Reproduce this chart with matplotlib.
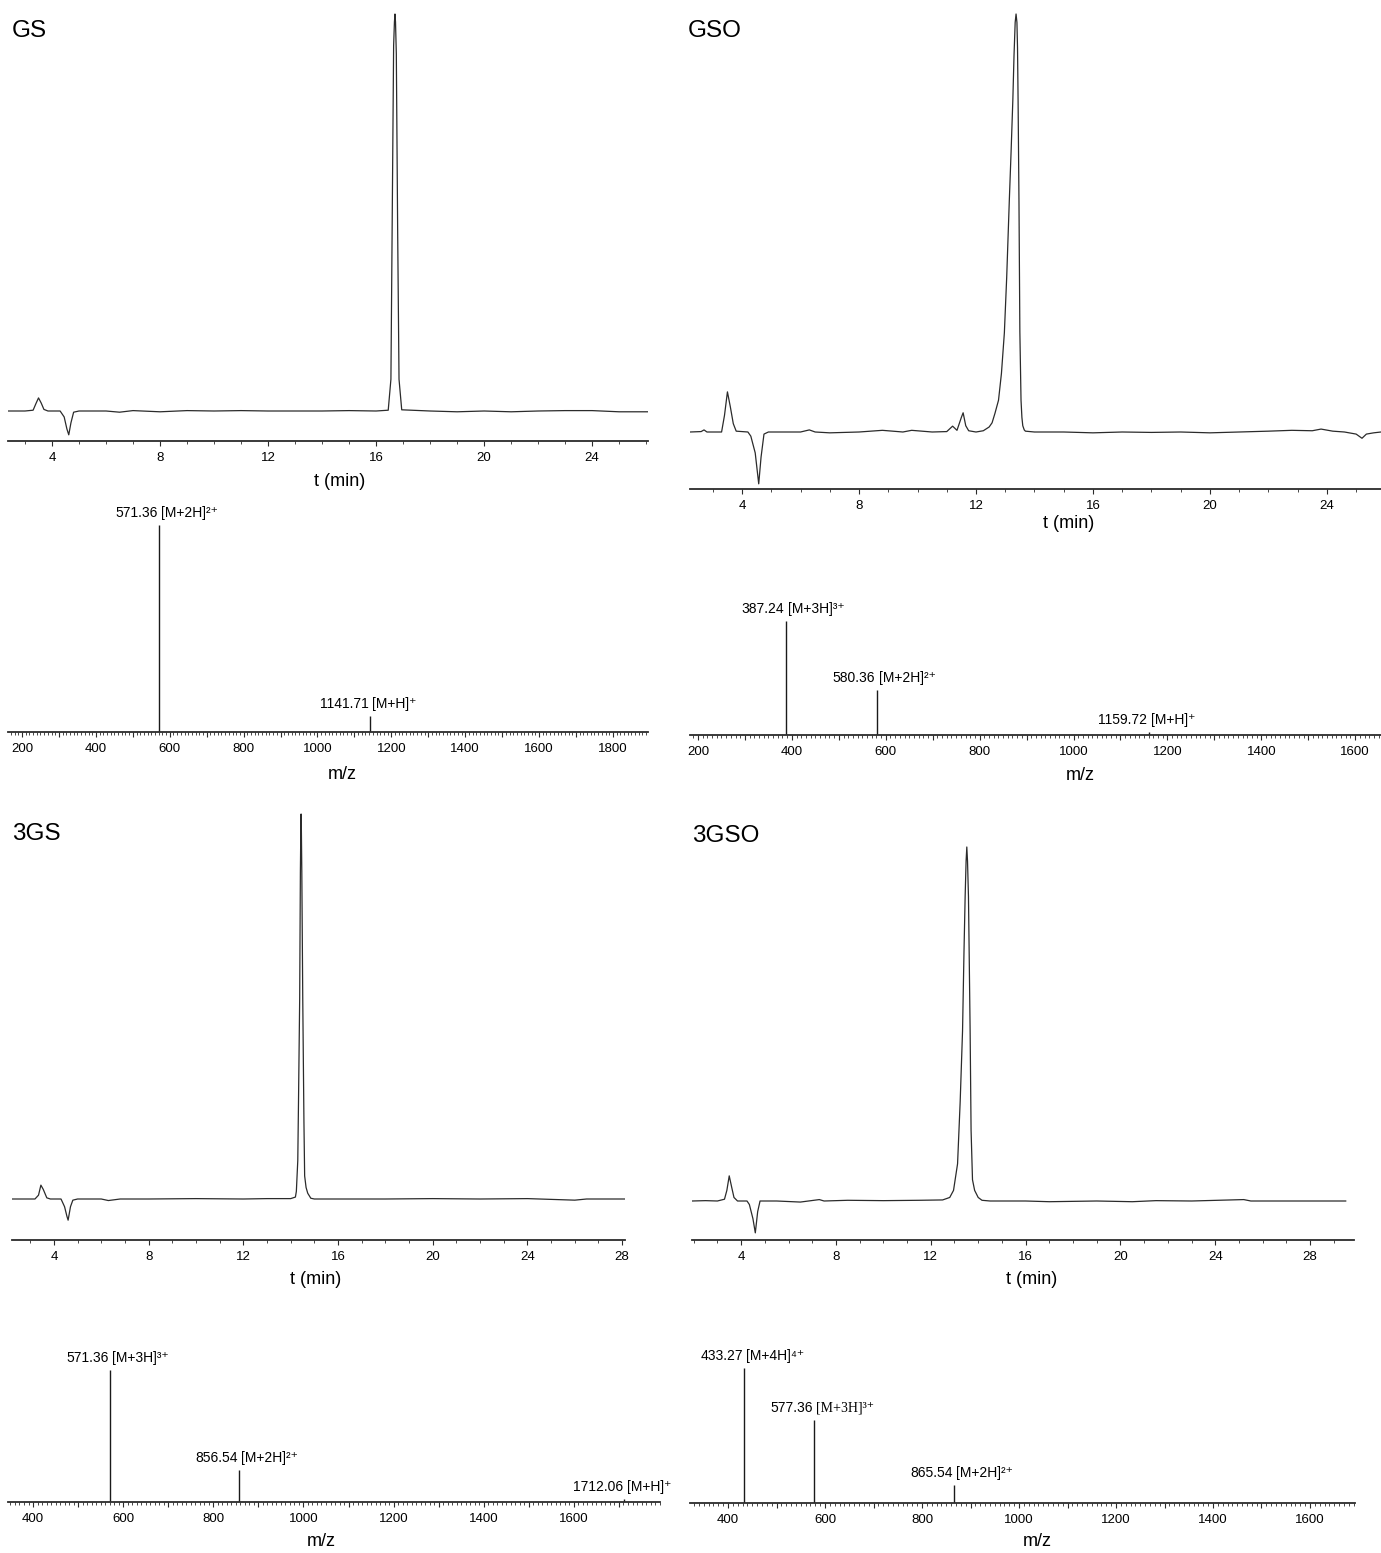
import matplotlib
matplotlib.use('Agg')
import matplotlib.pyplot as plt
from matplotlib.ticker import MultipleLocator, FuncFormatter

FIG_W, FIG_H = 1381, 1553
LINE_COLOR = '#2b2b2b'

plt.rcParams['font.family'] = ['Liberation Sans', 'DejaVu Sans']

# --- HPLC traces: retention time (min) and signal (relative units, main peak = 100)
GS_T = [2.37, 3.0, 3.3, 3.4, 3.5, 3.6, 3.7, 3.85, 4.3, 4.45, 4.55, 4.62, 4.7,
        4.8, 5.0, 6.0, 6.5, 7.0, 8.0, 9.0, 10.0, 11.0, 12.0, 13.0, 14.0, 15.0,
        16.0, 16.45, 16.55, 16.6, 16.65, 16.68, 16.7, 16.72, 16.75, 16.8,
        16.85, 16.95, 18.0, 19.0, 20.0, 21.0, 22.0, 23.0, 24.0, 25.0, 26.07]
GS_SIGNAL = [0, 0, 0.2, 1.8, 3.3, 2.0, 0.4, 0, 0, -1.5, -4.5, -6.0, -3.0,
             -0.3, 0, 0, -0.3, 0.1, -0.2, 0.1, 0, 0.1, 0, 0, 0, 0.1,
             0, 0.2, 8, 50, 92, 98, 100, 98, 90, 45,
             8, 0.3, 0, -0.2, 0, -0.2, 0, 0.1, 0.1, -0.2, -0.2]

GSO_T = [2.22, 2.6, 2.7, 2.8, 3.3, 3.4, 3.5, 3.6, 3.7, 3.8, 4.2, 4.3, 4.45,
         4.57, 4.65, 4.75, 4.9, 6.0, 6.3, 6.5, 7.0, 8.0, 8.8, 9.5, 9.8, 10.5,
         11.0, 11.2, 11.35, 11.5, 11.56, 11.65, 11.75, 12.0, 12.25, 12.45,
         12.55, 12.65, 12.77, 12.87, 12.97, 13.05, 13.14, 13.2, 13.26, 13.3,
         13.34, 13.37, 13.4, 13.42, 13.44, 13.47, 13.5, 13.54, 13.57, 13.6,
         13.65, 13.69, 14.0, 15.0, 16.0, 17.0, 18.0, 19.0, 20.0, 21.0, 22.0,
         22.8, 23.5, 23.8, 24.2, 24.6, 25.0, 25.2, 25.35, 25.6, 25.85]
GSO_SIGNAL = [0, 0.1, 0.5, 0, 0, 4, 9.6, 6, 2, 0.2, 0, -1, -5,
              -12.4, -6, -0.5, 0, 0, 0.5, 0, -0.2, 0, 0.4, 0, 0.4, 0,
              0.1, 1.4, 0.4, 3.5, 4.6, 1.5, 0.3, 0, 0.3, 1.2,
              2.2, 4.5, 7.6, 14, 23.7, 37, 55.5, 67, 79.4, 90,
              98, 100, 98, 92, 79, 55, 24, 7.6, 3.5, 1.5,
              0.5, 0.2, 0, 0, -0.2, 0, -0.1, 0, -0.2, 0, 0.2,
              0.4, 0.3, 0.7, 0.2, 0, -0.5, -1.5, -0.5, -0.2, 0]

GS3_T = [2.23, 3.2, 3.35, 3.45, 3.55, 3.7, 3.85, 4.3, 4.45, 4.55, 4.6, 4.7,
         4.8, 5.0, 6.0, 6.3, 6.8, 8.0, 10.0, 12.0, 13.0, 14.0, 14.2, 14.24,
         14.3, 14.33, 14.38, 14.41, 14.43, 14.44, 14.45, 14.47, 14.51, 14.56,
         14.59, 14.65, 14.72, 14.85, 15.0, 16.0, 18.0, 20.0, 22.0, 24.0, 25.0,
         26.0, 26.5, 28.12]
GS3_SIGNAL = [0, 0, 1, 3.6, 2.5, 0.3, 0, 0, -2, -4.5, -5.5, -2,
              -0.3, 0, 0, -0.4, 0, 0, 0.1, 0, 0.1, 0.1, 0.5, 2,
              10, 25, 52, 85, 97, 100, 97, 85, 52, 20,
              6, 3, 1.5, 0.2, 0, 0, 0, 0.1, 0, 0.1, -0.1,
              -0.3, 0, 0]

GSO3_T = [1.93, 2.5, 3.0, 3.3, 3.4, 3.5, 3.6, 3.7, 3.85, 4.25, 4.35, 4.5,
          4.6, 4.7, 4.8, 5.5, 6.5, 7.3, 7.5, 8.5, 10.0, 11.5, 12.5, 12.8,
          12.96, 13.13, 13.24, 13.34, 13.4, 13.45, 13.49, 13.52, 13.55, 13.59,
          13.62, 13.66, 13.7, 13.76, 13.85, 14.0, 14.16, 14.5, 16.0, 17.0,
          19.0, 20.5, 21.5, 23.0, 25.2, 25.5, 27.0, 29.5]
GSO3_SIGNAL = [0, 0.1, 0, 0.5, 3, 7.1, 4, 1, 0, 0, -1, -5,
               -9.0, -3, 0, 0, -0.3, 0.4, 0, 0.2, 0.1, 0.2, 0.3, 1,
               3, 10.5, 28, 48, 70, 86, 96, 100, 96, 86,
               70, 48, 20, 6, 3, 1, 0.2, 0, 0, -0.2,
               0, -0.2, 0.1, 0, 0.4, 0, 0, 0]

# --- ESI-MS spectra: m/z, relative intensity, ion assignment
GS_MZ = [571.36, 1141.71]
GS_INTENSITY = [100, 7.7]
GS_IONS = ['[M+2H]²⁺', '[M+H]⁺']

GSO_MZ = [387.24, 580.36, 1159.72]
GSO_INTENSITY = [100, 39.5, 2.6]
GSO_IONS = ['[M+3H]³⁺', '[M+2H]²⁺', '[M+H]⁺']

GS3_MZ = [571.36, 856.54, 1712.06]
GS3_INTENSITY = [100, 24.2, 2.3]
GS3_IONS = ['[M+3H]³⁺', '[M+2H]²⁺', '[M+H]⁺']

GSO3_MZ = [433.27, 577.36, 865.54]
GSO3_INTENSITY = [100, 61.5, 13.3]
GSO3_IONS = ['[M+4H]⁴⁺', '[M+3H]³⁺', '[M+2H]²⁺']
GSO3_ION_FONTS = ['Liberation Sans', 'Liberation Serif', 'Liberation Sans']


def add_px_axes(fig, left, top, right, bottom):
    """Создаёт оси по пиксельным координатам (от верхнего левого угла)."""
    return fig.add_axes([left / FIG_W, 1 - bottom / FIG_H,
                         (right - left) / FIG_W, (bottom - top) / FIG_H])


def style_axis(ax, major, minor, label_step):
    """Оставляет только нижнюю ось со штрихами, как у прибора."""
    for side in ('left', 'right', 'top'):
        ax.spines[side].set_visible(False)
    ax.spines['bottom'].set_linewidth(1.3)
    ax.spines['bottom'].set_color(LINE_COLOR)
    ax.set_yticks([])
    ax.patch.set_alpha(0)
    ax.xaxis.set_major_locator(MultipleLocator(major))
    ax.xaxis.set_minor_locator(MultipleLocator(minor))
    ax.xaxis.set_major_formatter(FuncFormatter(
        lambda v, _: f'{v:.0f}' if round(v) % label_step == 0 else ''))
    ax.tick_params(axis='x', which='major', length=3.5, width=0.8,
                   pad=4.5, labelsize=9.5, color=LINE_COLOR)
    ax.tick_params(axis='x', which='minor', length=2, width=0.6,
                   color=LINE_COLOR)


def place_xlabel(ax, text, box, cx, cy):
    """Подпись оси с центром в заданной точке (пиксели)."""
    left, top, right, bottom = box
    ax.set_xlabel(text, fontsize=13, va='center', ha='center')
    ax.xaxis.set_label_coords((cx - left) / (right - left),
                              -(cy - bottom) / (bottom - top))


def plot_chromatogram(fig, t, signal, box, base_y, peak_y, xlim, label_xy):
    """Хроматограмма: box = (left, top, right, axis_y) в пикселях."""
    left, top, right, axis_y = box
    ax = add_px_axes(fig, *box)
    px_per_unit = (base_y - peak_y) / 100
    ax.plot(t, signal, color=LINE_COLOR, lw=0.9)
    ax.set_xlim(*xlim)
    ax.set_ylim(-(axis_y - base_y) / px_per_unit, (base_y - top) / px_per_unit)
    style_axis(ax, 4, 1, 4)
    place_xlabel(ax, 't (min)', box, *label_xy)
    return ax


def plot_spectrum(fig, mz, intensity, ions, box, peak_y, xlim, label_xy,
                  ion_fonts=None):
    """Масс-спектр: вертикальные линии и подписи ионов."""
    left, top, right, axis_y = box
    ax = add_px_axes(fig, *box)
    ax.vlines(mz, 0, intensity, color='#1a1a1a', lw=1.0)
    ax.set_xlim(*xlim)
    ax.set_ylim(0, 100 * (axis_y - top) / (axis_y - peak_y))
    style_axis(ax, 100, 10, 200)
    place_xlabel(ax, 'm/z', box, *label_xy)
    if ion_fonts is None:
        ion_fonts = ['Liberation Sans'] * len(mz)
    for value, height, ion, font in zip(mz, intensity, ions, ion_fonts):
        ax.annotate(f'{value:.2f}', xy=(value, height), xytext=(-1, 6),
                    textcoords='offset points', ha='right', va='baseline',
                    fontsize=10, annotation_clip=False)
        ax.annotate(ion, xy=(value, height), xytext=(1.5, 6),
                    textcoords='offset points', ha='left', va='baseline',
                    fontsize=10, family=[font, 'DejaVu Sans'],
                    annotation_clip=False)
    return ax


def main() -> None:
    fig = plt.figure(figsize=(FIG_W / 100, FIG_H / 100), dpi=100)

    plot_chromatogram(fig, GS_T, GS_SIGNAL, (8, 10, 648, 441), 411, 14,
                      (2.37, 26.07), (340, 482))
    plot_chromatogram(fig, GSO_T, GSO_SIGNAL, (690, 10, 1381, 489), 432, 14,
                      (2.22, 25.85), (1069, 523))
    plot_chromatogram(fig, GS3_T, GS3_SIGNAL, (12, 805, 625, 1240), 1199, 814,
                      (2.23, 28.12), (316, 1280))
    plot_chromatogram(fig, GSO3_T, GSO3_SIGNAL, (692, 840, 1354, 1240), 1201,
                      847, (1.93, 29.85), (1032, 1280))

    plot_spectrum(fig, GS_MZ, GS_INTENSITY, GS_IONS, (8, 500, 648, 732), 525,
                  (162, 1895), (342, 775))
    plot_spectrum(fig, GSO_MZ, GSO_INTENSITY, GSO_IONS, (690, 595, 1381, 735),
                  621, (183, 1655), (1080, 776))
    plot_spectrum(fig, GS3_MZ, GS3_INTENSITY, GS3_IONS, (8, 1345, 660, 1502),
                  1370, (344.5, 1791), (321, 1541))
    plot_spectrum(fig, GSO3_MZ, GSO3_INTENSITY, GSO3_IONS,
                  (690, 1345, 1355, 1503), 1368, (321.6, 1692.8), (1037, 1541),
                  ion_fonts=GSO3_ION_FONTS)

    for name, x, y in [('GS', 12, 31), ('GSO', 688, 31),
                       ('3GS', 12, 834), ('3GSO', 692, 836)]:
        fig.text(x / FIG_W, 1 - y / FIG_H, name, fontsize=17.5,
                 ha='left', va='center')

    fig.savefig('out.png', dpi=100)


if __name__ == '__main__':
    main()
